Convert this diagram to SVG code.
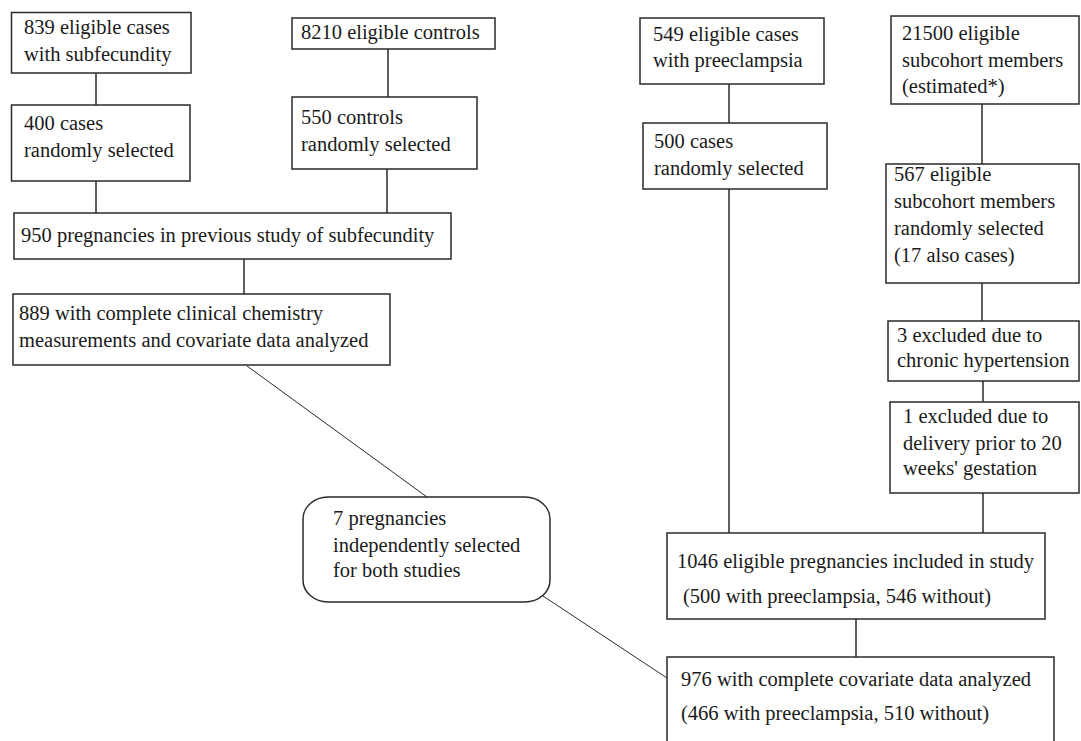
<svg xmlns="http://www.w3.org/2000/svg" width="1081" height="741" viewBox="0 0 1081 741">
<style>
  .box { fill: #ffffff; stroke: #2a2a2a; stroke-width: 1.5; }
  text { font-family: 'Liberation Serif', 'DejaVu Serif', 'Times New Roman', serif; font-size: 20.5px; fill: #1a1a1a; }
  .conn line { stroke: #2a2a2a; stroke-width: 1.5; }
  .conn line.thin { stroke-width: 1; }
</style>
<rect x="0" y="0" width="1081" height="741" fill="#ffffff"/>
<g class="conn" id="connectors">
  <line x1="96" y1="73" x2="96" y2="105"/>
  <line x1="388" y1="49" x2="388" y2="97"/>
  <line x1="96" y1="181" x2="96" y2="213"/>
  <line x1="387" y1="169" x2="387" y2="213"/>
  <line x1="244" y1="259" x2="244" y2="294"/>
  <line x1="729" y1="84" x2="729" y2="123"/>
  <line x1="729" y1="189" x2="729" y2="533"/>
  <line x1="982" y1="104" x2="982" y2="164"/>
  <line x1="982" y1="283" x2="982" y2="321"/>
  <line x1="983" y1="381" x2="983" y2="402"/>
  <line x1="983" y1="493" x2="983" y2="533"/>
  <line x1="856" y1="619" x2="856" y2="657"/>
  <line class="thin" x1="247" y1="366" x2="427" y2="497"/>
  <line class="thin" x1="543" y1="596" x2="667" y2="678"/>
</g>
<g font-family="Liberation Serif, serif">
<g id="n1">
  <rect class="box" x="11.5" y="12.5" width="179.5" height="60.5"/>
  <text x="24" y="34">839 eligible cases</text>
  <text x="24" y="61">with subfecundity</text>
</g>
<g id="n2">
  <rect class="box" x="292" y="18" width="203" height="31"/>
  <text x="301" y="39">8210 eligible controls</text>
</g>
<g id="n3">
  <rect class="box" x="11.5" y="105" width="178.5" height="76"/>
  <text x="24" y="130">400 cases</text>
  <text x="24" y="157">randomly selected</text>
</g>
<g id="n4">
  <rect class="box" x="292" y="97" width="185" height="72"/>
  <text x="301" y="124">550 controls</text>
  <text x="301" y="151">randomly selected</text>
</g>
<g id="n5">
  <rect class="box" x="14" y="213" width="437" height="46"/>
  <text x="21" y="242">950 pregnancies in previous study of subfecundity</text>
</g>
<g id="n6">
  <rect class="box" x="13" y="294" width="377" height="71"/>
  <text x="19" y="320">889 with complete clinical chemistry</text>
  <text x="19" y="347">measurements and covariate data analyzed</text>
</g>
<g id="n7">
  <rect class="box" x="640" y="18" width="184" height="66"/>
  <text x="653" y="41">549 eligible cases</text>
  <text x="653" y="67">with preeclampsia</text>
</g>
<g id="n8">
  <rect class="box" x="643" y="123" width="184" height="66"/>
  <text x="654" y="148">500 cases</text>
  <text x="654" y="175">randomly selected</text>
</g>
<g id="n9">
  <rect class="box" x="891" y="16" width="188" height="88"/>
  <text x="902" y="40">21500 eligible</text>
  <text x="902" y="67">subcohort members</text>
  <text x="902" y="93">(estimated*)</text>
</g>
<g id="n10">
  <rect class="box" x="886" y="164" width="193" height="119"/>
  <text x="894" y="181">567 eligible</text>
  <text x="894" y="208">subcohort members</text>
  <text x="894" y="235">randomly selected</text>
  <text x="894" y="262">(17 also cases)</text>
</g>
<g id="n11">
  <rect class="box" x="888" y="321" width="191" height="60"/>
  <text x="897" y="342">3 excluded due to</text>
  <text x="897" y="367">chronic hypertension</text>
</g>
<g id="n12">
  <rect class="box" x="890" y="402" width="189" height="91"/>
  <text x="903" y="423">1 excluded due to</text>
  <text x="903" y="450">delivery prior to 20</text>
  <text x="903" y="475">weeks' gestation</text>
</g>
<g id="n13">
  <rect class="box" x="667" y="533" width="378" height="86"/>
  <text x="677" y="568">1046 eligible pregnancies included in study</text>
  <text x="683" y="603">(500 with preeclampsia, 546 without)</text>
</g>
<g id="n14">
  <rect class="box" x="667" y="657" width="387" height="90"/>
  <text x="681" y="686">976 with complete covariate data analyzed</text>
  <text x="681" y="720">(466 with preeclampsia, 510 without)</text>
</g>
<g id="n15">
  <rect class="box" x="303" y="497" width="247" height="105" rx="25" ry="22"/>
  <text x="333" y="525">7 pregnancies</text>
  <text x="333" y="552">independently selected</text>
  <text x="333" y="577">for both studies</text>
</g>
</g>
</svg>
